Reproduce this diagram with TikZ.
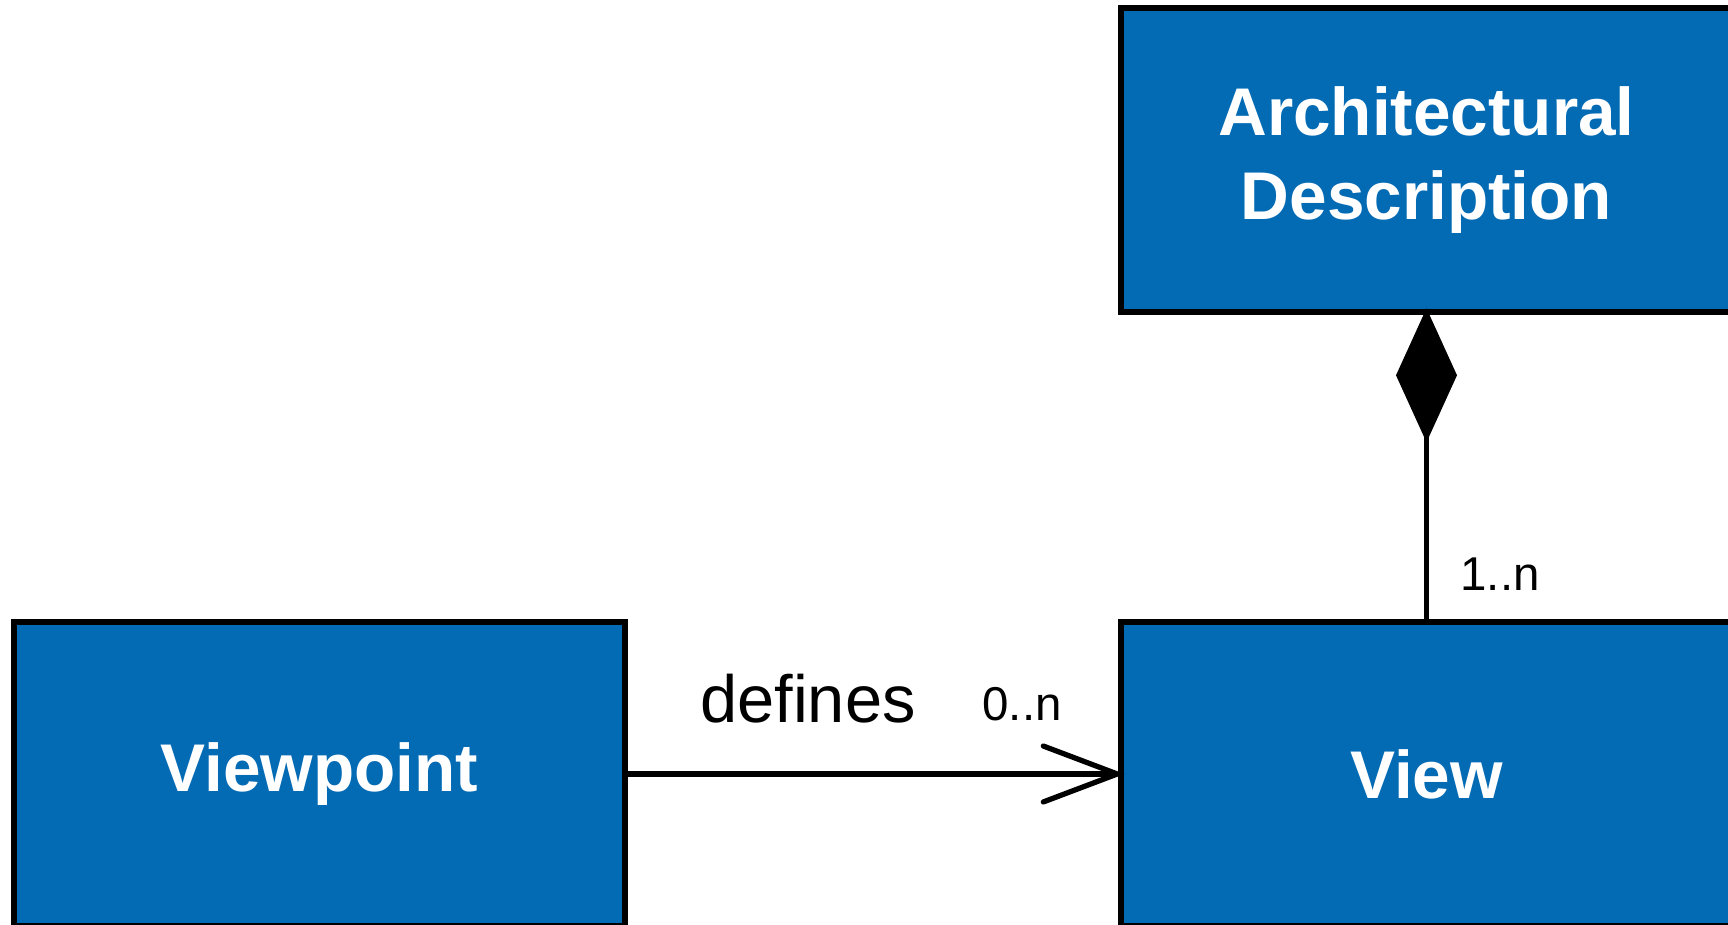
\documentclass[tikz,border=0pt]{standalone}
\usepackage{fontspec}
\setmainfont{Liberation Sans}
\usepackage{xcolor}
\usepackage{tikz}
\usetikzlibrary{arrows.meta,positioning}
\definecolor{umlblue}{RGB}{3,106,180}

\begin{document}
\begin{tikzpicture}[
  cls/.style={draw, line width=1.9pt, fill=umlblue, text=white, minimum width=6.11cm, minimum height=3.04cm, align=center, font=\fontsize{19.2}{22.8}\selectfont\bfseries},
  assoc/.style={line width=1.5pt},
  mult/.style={font=\fontsize{13.5}{16}\selectfont},
  rel/.style={font=\fontsize{19}{22}\selectfont}
]
\useasboundingbox (0,0) rectangle (17.28,-9.25);
% ---- classes
\node[cls] (ad) at (14.265,-1.60) {Architectural\\[1pt]Description};
\node[cls] (vp) at (3.195,-7.74) {Viewpoint};
\node[cls] (view) at (14.265,-7.74) {View};
% ---- composition
\draw[assoc, shorten <=-2pt, {Diamond[length=13.4mm, width=6.1mm]}-] (ad.south) -- (view.north);
\node[mult] (m1) at (15.0,-5.74) {1..n};
% ---- association
\draw[assoc, shorten >=-2pt, -{Straight Barb[length=7.4mm, width=5.6mm, line cap=round]}] (vp.east) -- (view.west);
\node[rel] (def) at (8.08,-6.99) {defines};
\node[mult] (m0) at (10.22,-7.04) {0..n};
\end{tikzpicture}
\end{document}
